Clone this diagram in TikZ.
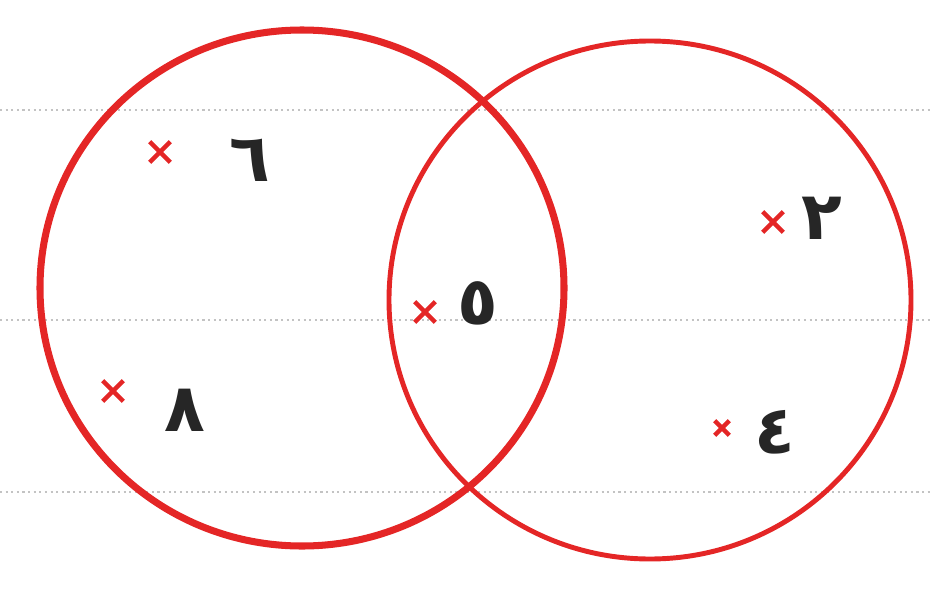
\documentclass[tikz,border=0pt]{standalone}
\usepackage{fontspec}
\newfontfamily\arabicfont[Script=Arabic]{DejaVu Sans}
\TeXXeTstate=1
\usetikzlibrary{shapes.misc}
\definecolor{penred}{RGB}{228,38,38}
\definecolor{lineg}{RGB}{195,195,195}
\begin{document}
\begin{tikzpicture}[x=0.02cm,y=-0.02cm,
  xmark/.style={cross out,draw=penred,line width=2.6pt,minimum size=0.32cm,inner sep=0pt},
  digit/.style={font=\arabicfont\fontsize{38}{40}\selectfont\bfseries,text=black!85,inner sep=0pt}]
\useasboundingbox (0,0) rectangle (930,595);
\foreach \yy in {110,320,492}
  \draw[lineg,dotted,line width=1.2pt] (0,\yy) -- (930,\yy);

\draw[penred,line width=4pt] (302,288) ellipse [x radius=262,y radius=258];
\draw[penred,line width=2.8pt] (650,300) ellipse [x radius=261,y radius=259];

\node[xmark] (x6) at (160,152) {};
\node[digit] (d6) at (250,160) {\beginR ٦\endR};
\node[xmark] (x8) at (113,391) {};
\node[digit] (d8) at (185,410) {\beginR ٨\endR};
\node[xmark] (x5) at (425,312) {};
\node[digit] (d5) at (478,303) {\beginR ٥\endR};
\node[xmark] (x2) at (773,222) {};
\node[digit] (d2) at (822,218) {\beginR ٢\endR};
\node[xmark,minimum size=0.2cm] (x4) at (722,428) {};
\node[digit] (d4) at (775,432) {\beginR ٤\endR};
\end{tikzpicture}
\end{document}
